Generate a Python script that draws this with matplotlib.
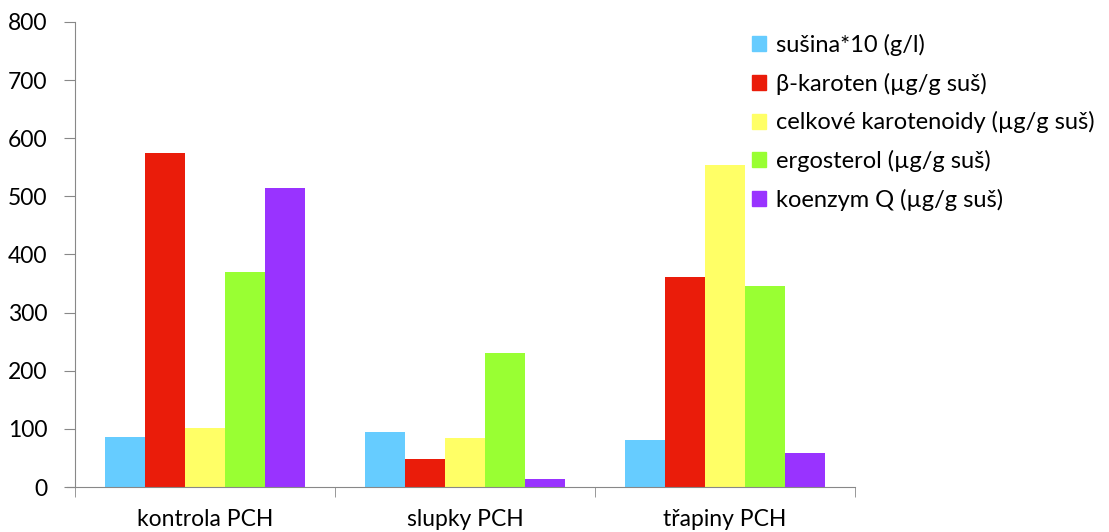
import numpy as np
import matplotlib.pyplot as plt
from matplotlib.patches import Patch

plt.rcParams['font.family'] = ['Lato', 'DejaVu Sans']

categories = ['kontrola PCH', 'slupky PCH', 'třapiny PCH']
series_names = ['sušina*10 (g/l)', 'β-karoten (µg/g suš)', 'celkové karotenoidy (µg/g suš)',
                'ergosterol (µg/g suš)', 'koenzym Q (µg/g suš)']
susina = [86, 95, 81]
beta_karoten = [575, 48, 361]
karotenoidy = [101, 84, 554]
ergosterol = [370, 231, 346]
koenzym_q = [515, 14, 58]
colors = ['#66CCFF', '#EA1C0A', '#FFFF66', '#99FF33', '#9933FF']

series = [susina, beta_karoten, karotenoidy, ergosterol, koenzym_q]

fig = plt.figure(figsize=(11.09, 5.32), dpi=100)
ax = fig.add_axes([75 / 1109, 45 / 532, 780 / 1109, 465 / 532])

x = np.arange(len(categories))
w = 1 / 6.5
for i, (vals, c) in enumerate(zip(series, colors)):
    ax.bar(x + (i - 2) * w, vals, width=w, color=c)

ax.set_xlim(-0.5, 2.5)
ax.set_ylim(0, 800)
ax.set_yticks(range(0, 801, 100))
ax.set_xticks(x)
ax.set_xticklabels(categories)
ax.set_xticks([-0.5, 0.5, 1.5, 2.5], minor=True)
ax.tick_params(axis='x', which='major', length=0, pad=16, labelsize=16.5)
ax.tick_params(axis='x', which='minor', length=7, color='#888888')
ax.tick_params(axis='y', length=8, color='#888888', labelsize=16.5, pad=12)
for s in ['top', 'right']:
    ax.spines[s].set_visible(False)
for s in ['left', 'bottom']:
    ax.spines[s].set_color('#888888')
ax.spines['bottom'].set_bounds(-0.53, 2.5)

handles = [Patch(color=c) for c in colors]
fig.legend(handles, series_names, loc='upper left', bbox_to_anchor=(752 / 1109, 1 - 34 / 532),
           frameon=False, fontsize=17, handlelength=0.6, handleheight=0.6,
           handletextpad=0.42, labelspacing=0.7, borderpad=0, borderaxespad=0)

fig.savefig('out.png', dpi=100)
